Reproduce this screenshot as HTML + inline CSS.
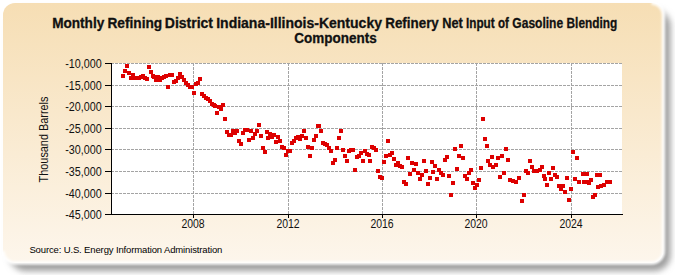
<!DOCTYPE html>
<html><head><meta charset="utf-8"><style>
html,body{margin:0;padding:0;background:#fff;width:675px;height:275px;overflow:hidden;}
svg{display:block;font-family:"Liberation Sans", sans-serif;}
</style></head><body>
<svg width="675" height="275" viewBox="0 0 675 275">
<defs>
<linearGradient id="bg" x1="0" y1="0" x2="0" y2="1">
<stop offset="0" stop-color="#f6deb4"/>
<stop offset="1" stop-color="#fdf6ec"/>
</linearGradient>
<filter id="sh" x="-5%" y="-10%" width="110%" height="120%">
<feGaussianBlur stdDeviation="3"/>
</filter>
<filter id="rim" x="-5%" y="-10%" width="110%" height="120%">
<feGaussianBlur stdDeviation="1.2"/>
</filter>
</defs>
<rect x="9.5" y="10" width="661" height="261" rx="16" fill="#9e9e9e" filter="url(#sh)"/>
<rect x="3" y="3" width="660.5" height="260" rx="12" fill="url(#bg)"/>
<path d="M3,251 A12,12 0 0 0 15,263 L651.5,263 A12,12 0 0 0 663.5,251 L663.5,15 A12,12 0 0 0 651.5,3" fill="none" stroke="#fff" stroke-width="3.5" stroke-opacity="0.9" filter="url(#rim)"/>
<rect x="112" y="63" width="510" height="151" fill="#fff"/>
<g stroke="#a4a4a4" stroke-width="1" stroke-dasharray="3,1" shape-rendering="crispEdges"><line x1="112" x2="622" y1="63.5" y2="63.5" stroke-dashoffset="1"/><line x1="112" x2="622" y1="85.5" y2="85.5" stroke-dashoffset="1"/><line x1="112" x2="622" y1="106.5" y2="106.5" stroke-dashoffset="1"/><line x1="112" x2="622" y1="128.5" y2="128.5" stroke-dashoffset="1"/><line x1="112" x2="622" y1="149.5" y2="149.5" stroke-dashoffset="1"/><line x1="112" x2="622" y1="171.5" y2="171.5" stroke-dashoffset="1"/><line x1="112" x2="622" y1="193.5" y2="193.5" stroke-dashoffset="1"/><line x1="193.5" x2="193.5" y1="63" y2="214"/><line x1="288.5" x2="288.5" y1="63" y2="214"/><line x1="382.5" x2="382.5" y1="63" y2="214"/><line x1="476.5" x2="476.5" y1="63" y2="214"/><line x1="571.5" x2="571.5" y1="63" y2="214"/></g>
<g fill="#dd0000" shape-rendering="crispEdges"><rect x="121" y="74" width="4" height="4"/><rect x="123" y="69" width="4" height="4"/><rect x="125" y="64" width="4" height="4"/><rect x="127" y="71" width="4" height="4"/><rect x="129" y="76" width="4" height="4"/><rect x="131" y="73" width="4" height="4"/><rect x="133" y="76" width="4" height="4"/><rect x="135" y="76" width="4" height="4"/><rect x="137" y="76" width="4" height="4"/><rect x="139" y="75" width="4" height="4"/><rect x="141" y="74" width="4" height="4"/><rect x="143" y="76" width="4" height="4"/><rect x="145" y="77" width="4" height="4"/><rect x="147" y="65" width="4" height="4"/><rect x="149" y="70" width="4" height="4"/><rect x="151" y="74" width="4" height="4"/><rect x="152" y="75" width="4" height="4"/><rect x="154" y="78" width="4" height="4"/><rect x="156" y="75" width="4" height="4"/><rect x="158" y="78" width="4" height="4"/><rect x="160" y="76" width="4" height="4"/><rect x="162" y="75" width="4" height="4"/><rect x="164" y="74" width="4" height="4"/><rect x="166" y="85" width="4" height="4"/><rect x="168" y="73" width="4" height="4"/><rect x="170" y="73" width="4" height="4"/><rect x="172" y="80" width="4" height="4"/><rect x="174" y="79" width="4" height="4"/><rect x="176" y="76" width="4" height="4"/><rect x="178" y="72" width="4" height="4"/><rect x="180" y="75" width="4" height="4"/><rect x="182" y="78" width="4" height="4"/><rect x="184" y="81" width="4" height="4"/><rect x="186" y="83" width="4" height="4"/><rect x="188" y="85" width="4" height="4"/><rect x="190" y="85" width="4" height="4"/><rect x="192" y="91" width="4" height="4"/><rect x="194" y="82" width="4" height="4"/><rect x="196" y="81" width="4" height="4"/><rect x="198" y="77" width="4" height="4"/><rect x="200" y="92" width="4" height="4"/><rect x="202" y="94" width="4" height="4"/><rect x="204" y="96" width="4" height="4"/><rect x="206" y="97" width="4" height="4"/><rect x="208" y="99" width="4" height="4"/><rect x="210" y="102" width="4" height="4"/><rect x="212" y="103" width="4" height="4"/><rect x="213" y="104" width="4" height="4"/><rect x="215" y="111" width="4" height="4"/><rect x="217" y="105" width="4" height="4"/><rect x="219" y="107" width="4" height="4"/><rect x="221" y="103" width="4" height="4"/><rect x="223" y="117" width="4" height="4"/><rect x="225" y="130" width="4" height="4"/><rect x="227" y="133" width="4" height="4"/><rect x="229" y="133" width="4" height="4"/><rect x="231" y="129" width="4" height="4"/><rect x="233" y="131" width="4" height="4"/><rect x="235" y="129" width="4" height="4"/><rect x="237" y="139" width="4" height="4"/><rect x="239" y="142" width="4" height="4"/><rect x="241" y="131" width="4" height="4"/><rect x="243" y="128" width="4" height="4"/><rect x="245" y="128" width="4" height="4"/><rect x="247" y="138" width="4" height="4"/><rect x="249" y="129" width="4" height="4"/><rect x="251" y="136" width="4" height="4"/><rect x="253" y="132" width="4" height="4"/><rect x="255" y="129" width="4" height="4"/><rect x="257" y="123" width="4" height="4"/><rect x="259" y="134" width="4" height="4"/><rect x="261" y="146" width="4" height="4"/><rect x="263" y="150" width="4" height="4"/><rect x="265" y="130" width="4" height="4"/><rect x="266" y="136" width="4" height="4"/><rect x="268" y="132" width="4" height="4"/><rect x="270" y="135" width="4" height="4"/><rect x="272" y="133" width="4" height="4"/><rect x="274" y="140" width="4" height="4"/><rect x="276" y="135" width="4" height="4"/><rect x="278" y="139" width="4" height="4"/><rect x="280" y="145" width="4" height="4"/><rect x="282" y="146" width="4" height="4"/><rect x="284" y="153" width="4" height="4"/><rect x="286" y="149" width="4" height="4"/><rect x="288" y="149" width="4" height="4"/><rect x="290" y="141" width="4" height="4"/><rect x="292" y="139" width="4" height="4"/><rect x="294" y="136" width="4" height="4"/><rect x="296" y="135" width="4" height="4"/><rect x="298" y="137" width="4" height="4"/><rect x="300" y="134" width="4" height="4"/><rect x="302" y="129" width="4" height="4"/><rect x="304" y="136" width="4" height="4"/><rect x="306" y="145" width="4" height="4"/><rect x="308" y="154" width="4" height="4"/><rect x="310" y="146" width="4" height="4"/><rect x="312" y="138" width="4" height="4"/><rect x="314" y="134" width="4" height="4"/><rect x="316" y="124" width="4" height="4"/><rect x="317" y="124" width="4" height="4"/><rect x="319" y="129" width="4" height="4"/><rect x="321" y="141" width="4" height="4"/><rect x="323" y="142" width="4" height="4"/><rect x="325" y="143" width="4" height="4"/><rect x="327" y="146" width="4" height="4"/><rect x="329" y="149" width="4" height="4"/><rect x="331" y="161" width="4" height="4"/><rect x="333" y="158" width="4" height="4"/><rect x="335" y="146" width="4" height="4"/><rect x="337" y="136" width="4" height="4"/><rect x="339" y="129" width="4" height="4"/><rect x="341" y="148" width="4" height="4"/><rect x="343" y="154" width="4" height="4"/><rect x="345" y="159" width="4" height="4"/><rect x="347" y="149" width="4" height="4"/><rect x="349" y="148" width="4" height="4"/><rect x="351" y="148" width="4" height="4"/><rect x="353" y="168" width="4" height="4"/><rect x="355" y="155" width="4" height="4"/><rect x="357" y="154" width="4" height="4"/><rect x="359" y="151" width="4" height="4"/><rect x="361" y="159" width="4" height="4"/><rect x="363" y="149" width="4" height="4"/><rect x="365" y="152" width="4" height="4"/><rect x="367" y="153" width="4" height="4"/><rect x="368" y="159" width="4" height="4"/><rect x="370" y="145" width="4" height="4"/><rect x="372" y="146" width="4" height="4"/><rect x="374" y="148" width="4" height="4"/><rect x="376" y="169" width="4" height="4"/><rect x="378" y="175" width="4" height="4"/><rect x="380" y="176" width="4" height="4"/><rect x="382" y="160" width="4" height="4"/><rect x="384" y="154" width="4" height="4"/><rect x="386" y="139" width="4" height="4"/><rect x="388" y="153" width="4" height="4"/><rect x="390" y="151" width="4" height="4"/><rect x="392" y="157" width="4" height="4"/><rect x="394" y="163" width="4" height="4"/><rect x="396" y="161" width="4" height="4"/><rect x="398" y="164" width="4" height="4"/><rect x="400" y="165" width="4" height="4"/><rect x="402" y="180" width="4" height="4"/><rect x="404" y="182" width="4" height="4"/><rect x="406" y="156" width="4" height="4"/><rect x="408" y="172" width="4" height="4"/><rect x="410" y="161" width="4" height="4"/><rect x="412" y="168" width="4" height="4"/><rect x="414" y="162" width="4" height="4"/><rect x="416" y="171" width="4" height="4"/><rect x="418" y="177" width="4" height="4"/><rect x="420" y="173" width="4" height="4"/><rect x="422" y="159" width="4" height="4"/><rect x="424" y="169" width="4" height="4"/><rect x="426" y="182" width="4" height="4"/><rect x="428" y="176" width="4" height="4"/><rect x="430" y="160" width="4" height="4"/><rect x="433" y="164" width="4" height="4"/><rect x="431" y="170" width="4" height="4"/><rect x="437" y="168" width="4" height="4"/><rect x="439" y="171" width="4" height="4"/><rect x="441" y="173" width="4" height="4"/><rect x="435" y="177" width="4" height="4"/><rect x="443" y="158" width="4" height="4"/><rect x="445" y="155" width="4" height="4"/><rect x="447" y="174" width="4" height="4"/><rect x="451" y="181" width="4" height="4"/><rect x="449" y="193" width="4" height="4"/><rect x="453" y="147" width="4" height="4"/><rect x="455" y="167" width="4" height="4"/><rect x="457" y="154" width="4" height="4"/><rect x="459" y="144" width="4" height="4"/><rect x="461" y="156" width="4" height="4"/><rect x="463" y="174" width="4" height="4"/><rect x="465" y="177" width="4" height="4"/><rect x="467" y="171" width="4" height="4"/><rect x="469" y="168" width="4" height="4"/><rect x="471" y="181" width="4" height="4"/><rect x="473" y="186" width="4" height="4"/><rect x="475" y="183" width="4" height="4"/><rect x="477" y="178" width="4" height="4"/><rect x="479" y="166" width="4" height="4"/><rect x="481" y="117" width="4" height="4"/><rect x="483" y="137" width="4" height="4"/><rect x="485" y="144" width="4" height="4"/><rect x="486" y="159" width="4" height="4"/><rect x="488" y="163" width="4" height="4"/><rect x="490" y="155" width="4" height="4"/><rect x="491" y="165" width="4" height="4"/><rect x="494" y="163" width="4" height="4"/><rect x="496" y="156" width="4" height="4"/><rect x="498" y="175" width="4" height="4"/><rect x="500" y="154" width="4" height="4"/><rect x="502" y="171" width="4" height="4"/><rect x="504" y="147" width="4" height="4"/><rect x="506" y="158" width="4" height="4"/><rect x="508" y="178" width="4" height="4"/><rect x="511" y="179" width="4" height="4"/><rect x="514" y="180" width="4" height="4"/><rect x="517" y="176" width="4" height="4"/><rect x="520" y="199" width="4" height="4"/><rect x="522" y="193" width="4" height="4"/><rect x="524" y="169" width="4" height="4"/><rect x="526" y="171" width="4" height="4"/><rect x="528" y="159" width="4" height="4"/><rect x="530" y="165" width="4" height="4"/><rect x="532" y="169" width="4" height="4"/><rect x="535" y="169" width="4" height="4"/><rect x="538" y="168" width="4" height="4"/><rect x="540" y="165" width="4" height="4"/><rect x="542" y="174" width="4" height="4"/><rect x="543" y="177" width="4" height="4"/><rect x="545" y="183" width="4" height="4"/><rect x="547" y="171" width="4" height="4"/><rect x="549" y="177" width="4" height="4"/><rect x="551" y="166" width="4" height="4"/><rect x="553" y="173" width="4" height="4"/><rect x="555" y="175" width="4" height="4"/><rect x="557" y="184" width="4" height="4"/><rect x="561" y="184" width="4" height="4"/><rect x="559" y="187" width="4" height="4"/><rect x="563" y="190" width="4" height="4"/><rect x="565" y="176" width="4" height="4"/><rect x="567" y="198" width="4" height="4"/><rect x="569" y="187" width="4" height="4"/><rect x="571" y="150" width="4" height="4"/><rect x="573" y="177" width="4" height="4"/><rect x="575" y="156" width="4" height="4"/><rect x="577" y="180" width="4" height="4"/><rect x="581" y="172" width="4" height="4"/><rect x="582" y="180" width="4" height="4"/><rect x="585" y="180" width="4" height="4"/><rect x="585" y="172" width="4" height="4"/><rect x="587" y="181" width="4" height="4"/><rect x="589" y="178" width="4" height="4"/><rect x="591" y="195" width="4" height="4"/><rect x="593" y="193" width="4" height="4"/><rect x="595" y="173" width="4" height="4"/><rect x="596" y="185" width="4" height="4"/><rect x="598" y="173" width="4" height="4"/><rect x="599" y="184" width="4" height="4"/><rect x="602" y="183" width="4" height="4"/><rect x="605" y="180" width="4" height="4"/><rect x="608" y="180" width="4" height="4"/></g>
<g stroke="#000" stroke-width="1" shape-rendering="crispEdges">
<line x1="111.5" x2="111.5" y1="63" y2="215"/>
<line x1="105" x2="623" y1="214.5" y2="214.5"/>
<line x1="105" x2="112" y1="63.5" y2="63.5"/><line x1="105" x2="112" y1="85.5" y2="85.5"/><line x1="105" x2="112" y1="106.5" y2="106.5"/><line x1="105" x2="112" y1="128.5" y2="128.5"/><line x1="105" x2="112" y1="149.5" y2="149.5"/><line x1="105" x2="112" y1="171.5" y2="171.5"/><line x1="105" x2="112" y1="193.5" y2="193.5"/><line x1="105" x2="112" y1="214.5" y2="214.5"/><line x1="193.5" x2="193.5" y1="214" y2="218"/><line x1="288.5" x2="288.5" y1="214" y2="218"/><line x1="382.5" x2="382.5" y1="214" y2="218"/><line x1="476.5" x2="476.5" y1="214" y2="218"/><line x1="571.5" x2="571.5" y1="214" y2="218"/>
</g>
<g font-size="12" fill="#111"><text x="65.2" y="68.0" textLength="36.5" lengthAdjust="spacingAndGlyphs">-10,000</text><text x="65.2" y="90.0" textLength="36.5" lengthAdjust="spacingAndGlyphs">-15,000</text><text x="65.2" y="111.0" textLength="36.5" lengthAdjust="spacingAndGlyphs">-20,000</text><text x="65.2" y="133.0" textLength="36.5" lengthAdjust="spacingAndGlyphs">-25,000</text><text x="65.2" y="154.0" textLength="36.5" lengthAdjust="spacingAndGlyphs">-30,000</text><text x="65.2" y="176.0" textLength="36.5" lengthAdjust="spacingAndGlyphs">-35,000</text><text x="65.2" y="198.0" textLength="36.5" lengthAdjust="spacingAndGlyphs">-40,000</text><text x="65.2" y="219.0" textLength="36.5" lengthAdjust="spacingAndGlyphs">-45,000</text></g>
<g font-size="12" fill="#111"><text x="181.4" y="228" textLength="23.3" lengthAdjust="spacingAndGlyphs">2008</text><text x="276.4" y="228" textLength="23.3" lengthAdjust="spacingAndGlyphs">2012</text><text x="370.4" y="228" textLength="23.3" lengthAdjust="spacingAndGlyphs">2016</text><text x="464.4" y="228" textLength="23.3" lengthAdjust="spacingAndGlyphs">2020</text><text x="559.4" y="228" textLength="23.3" lengthAdjust="spacingAndGlyphs">2024</text></g>
<g font-size="14" font-weight="bold" fill="#111" stroke="#111" stroke-width="0.3"><text x="52.13" y="27.7" textLength="52.12" lengthAdjust="spacingAndGlyphs">Monthly</text><text x="107.42" y="27.7" textLength="54.75" lengthAdjust="spacingAndGlyphs">Refining</text><text x="164.80" y="27.7" textLength="48.23" lengthAdjust="spacingAndGlyphs">District</text><text x="216.20" y="27.7" textLength="165.79" lengthAdjust="spacingAndGlyphs">Indiana-Illinois-Kentucky</text><text x="385.24" y="27.7" textLength="53.58" lengthAdjust="spacingAndGlyphs">Refinery</text><text x="442.19" y="27.7" textLength="20.59" lengthAdjust="spacingAndGlyphs">Net</text><text x="465.96" y="27.7" textLength="28.71" lengthAdjust="spacingAndGlyphs">Input</text><text x="497.99" y="27.7" textLength="10.88" lengthAdjust="spacingAndGlyphs">of</text><text x="512.37" y="27.7" textLength="50.76" lengthAdjust="spacingAndGlyphs">Gasoline</text><text x="566.55" y="27.7" textLength="50.69" lengthAdjust="spacingAndGlyphs">Blending</text><text x="294.22" y="43.0" textLength="82.42" lengthAdjust="spacingAndGlyphs">Components</text></g>
<text transform="translate(47.8,182.4) rotate(-90)" font-size="12" fill="#111" textLength="85.8" lengthAdjust="spacingAndGlyphs">Thousand Barrels</text>
<text x="29.4" y="252.5" font-size="9.5" fill="#000" textLength="193" lengthAdjust="spacing">Source: U.S. Energy Information Administration</text>
</svg>
</body></html>
